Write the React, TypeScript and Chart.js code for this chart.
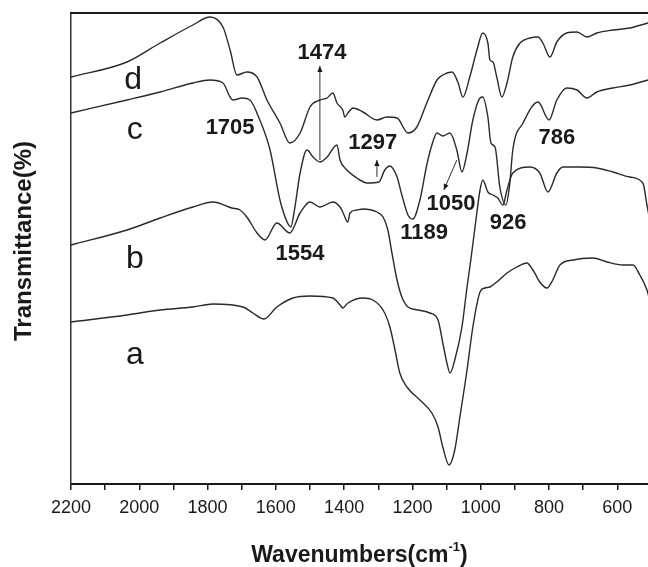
import React, { useEffect, useRef } from 'react';
import { Chart, registerables } from 'chart.js';

Chart.register(...registerables);

// ---- data (wavenumber in cm-1, transmittance in arbitrary offset units) ----
const waveA = [2200, 2036, 1939, 1843, 1784, 1696, 1667, 1635, 1597, 1550, 1500, 1433, 1412, 1404, 1389, 1345, 1316, 1286, 1266, 1251, 1237, 1216, 1178, 1143, 1125, 1111, 1093, 1076, 1061, 1040, 1023, 1002, 988, 973, 953, 923, 894, 865, 847, 827, 806, 789, 768, 730, 671, 630, 584, 554, 534, 513, 505];
const transA = [162, 169, 174, 177, 180, 177, 171, 165, 177, 186, 188, 186, 179, 176, 181, 186, 184, 174, 157, 134, 111, 97, 84, 71, 57, 37, 19, 34, 67, 114, 157, 192, 196, 197, 202, 211, 217, 221, 214, 202, 196, 204, 219, 224, 226, 222, 219, 219, 209, 194, 184];

const waveB = [2200, 2036, 1939, 1843, 1784, 1729, 1705, 1685, 1655, 1632, 1597, 1559, 1529, 1500, 1471, 1433, 1412, 1404, 1389, 1383, 1363, 1345, 1304, 1286, 1272, 1260, 1245, 1231, 1213, 1184, 1149, 1125, 1111, 1099, 1090, 1076, 1055, 1040, 1029, 1014, 1002, 994, 979, 964, 950, 935, 923, 906, 856, 827, 803, 777, 759, 710, 660, 613, 563, 525, 513, 505];
const transB = [239, 254, 266, 277, 282, 276, 274, 267, 251, 244, 261, 251, 271, 282, 277, 282, 277, 272, 262, 271, 274, 275, 272, 267, 254, 231, 204, 187, 177, 174, 171, 164, 141, 121, 111, 124, 157, 197, 224, 264, 294, 304, 292, 289, 286, 279, 294, 311, 317, 311, 292, 311, 317, 317, 316, 312, 307, 301, 279, 264];

const waveC = [2200, 2036, 1939, 1843, 1793, 1755, 1734, 1726, 1699, 1676, 1647, 1617, 1588, 1567, 1556, 1545, 1529, 1509, 1491, 1471, 1450, 1421, 1412, 1392, 1363, 1333, 1298, 1281, 1266, 1245, 1231, 1213, 1199, 1178, 1158, 1143, 1128, 1111, 1090, 1070, 1055, 1040, 1023, 1002, 994, 979, 970, 958, 944, 926, 915, 906, 876, 832, 800, 777, 748, 718, 689, 660, 613, 563, 510];
const transC = [371, 384, 392, 401, 404, 401, 387, 384, 386, 384, 364, 334, 284, 262, 257, 275, 311, 334, 327, 322, 327, 339, 324, 314, 306, 301, 302, 314, 318, 307, 289, 269, 265, 284, 319, 339, 351, 348, 351, 334, 312, 331, 364, 386, 387, 367, 341, 337, 297, 279, 300, 334, 361, 382, 364, 384, 396, 394, 386, 392, 396, 399, 404];

const waveD = [2200, 2036, 1939, 1843, 1793, 1755, 1734, 1714, 1685, 1655, 1626, 1588, 1559, 1529, 1500, 1471, 1450, 1433, 1421, 1404, 1398, 1389, 1374, 1345, 1304, 1275, 1245, 1213, 1187, 1158, 1128, 1111, 1084, 1067, 1052, 1032, 1011, 994, 979, 973, 964, 953, 938, 923, 906, 885, 856, 832, 818, 797, 777, 748, 718, 689, 660, 613, 563, 510];
const transD = [407, 422, 441, 459, 467, 457, 434, 409, 412, 407, 384, 361, 341, 351, 377, 384, 386, 391, 381, 374, 367, 371, 376, 372, 364, 367, 366, 351, 357, 381, 404, 409, 412, 402, 387, 407, 434, 451, 441, 424, 422, 407, 387, 401, 427, 441, 446, 447, 441, 427, 442, 451, 452, 447, 451, 454, 456, 461];

const xTickValues = [2200, 2100, 2000, 1900, 1800, 1700, 1600, 1500, 1400, 1300, 1200, 1100, 1000, 900, 800, 700, 600];

const seriesNames = ['a', 'b', 'c', 'd'];
const peakNames = ['1705', '1474', '1554', '1297', '1189', '1050', '926', '786'];

// annotation anchors in data coordinates
const seriesLabelAt = [
  { wn: 2013, val: 129 },
  { wn: 2013, val: 225 },
  { wn: 2013, val: 354 },
  { wn: 2018, val: 404 },
];
const peakLabelAt = [
  { wn: 1734, val: 356 },
  { wn: 1465, val: 431 },
  { wn: 1529, val: 230 },
  { wn: 1316, val: 341 },
  { wn: 1166, val: 251 },
  { wn: 1087, val: 280 },
  { wn: 920, val: 261 },
  { wn: 777, val: 346 },
];
const arrowsAt = [
  { from: [1471, 324], to: [1471, 418] },
  { from: [1304, 307], to: [1304, 324] },
  { from: [1070, 324], to: [1108, 294] },
];

const toPoints = (w: number[], t: number[]) => w.map((v, i) => ({ x: v, y: t[i] }));

const INK = '#1a1a1a';

const decorPlugin = {
  id: 'decor',
  afterDraw(chart: any) {
    const { ctx, chartArea: ca, scales } = chart;
    const xs = scales.x;
    const ys = scales.y;
    ctx.save();
    // top frame line
    ctx.strokeStyle = INK;
    ctx.lineWidth = 2;
    ctx.beginPath();
    ctx.moveTo(ca.left - 1, ca.top);
    ctx.lineTo(ca.right, ca.top);
    ctx.stroke();

    ctx.fillStyle = INK;
    ctx.textAlign = 'center';
    ctx.textBaseline = 'middle';
    ctx.font = '32px "Liberation Sans", Arial, sans-serif';
    seriesNames.forEach((s, i) => {
      const p = seriesLabelAt[i];
      ctx.fillText(s, xs.getPixelForValue(p.wn), ys.getPixelForValue(p.val));
    });
    ctx.font = 'bold 22px "Liberation Sans", Arial, sans-serif';
    peakNames.forEach((s, i) => {
      const p = peakLabelAt[i];
      ctx.fillText(s, xs.getPixelForValue(p.wn), ys.getPixelForValue(p.val));
    });

    // arrows
    ctx.lineWidth = 1;
    ctx.strokeStyle = '#333';
    arrowsAt.forEach((a) => {
      const x1 = xs.getPixelForValue(a.from[0]);
      const y1 = ys.getPixelForValue(a.from[1]);
      const x2 = xs.getPixelForValue(a.to[0]);
      const y2 = ys.getPixelForValue(a.to[1]);
      ctx.beginPath();
      ctx.moveTo(x1, y1);
      ctx.lineTo(x2, y2);
      ctx.stroke();
      const ang = Math.atan2(y2 - y1, x2 - x1);
      const L = 6;
      const W = 2.6;
      ctx.beginPath();
      ctx.moveTo(x2, y2);
      ctx.lineTo(x2 - L * Math.cos(ang) + W * Math.sin(ang), y2 - L * Math.sin(ang) - W * Math.cos(ang));
      ctx.lineTo(x2 - L * Math.cos(ang) - W * Math.sin(ang), y2 - L * Math.sin(ang) + W * Math.cos(ang));
      ctx.closePath();
      ctx.fill();
    });

    // x-axis title with superscript
    const cx = (ca.left + ca.right) / 2;
    const base = 562;
    const bigF = 'bold 23px "Liberation Sans", Arial, sans-serif';
    const supF = 'bold 13px "Liberation Sans", Arial, sans-serif';
    const p1 = 'Wavenumbers(cm';
    const p2 = '-1';
    const p3 = ')';
    ctx.textBaseline = 'alphabetic';
    ctx.textAlign = 'left';
    ctx.font = bigF;
    const w1 = ctx.measureText(p1).width;
    const w3 = ctx.measureText(p3).width;
    ctx.font = supF;
    const w2 = ctx.measureText(p2).width;
    let sx = cx - (w1 + w2 + w3) / 2;
    ctx.font = bigF;
    ctx.fillText(p1, sx, base);
    sx += w1;
    ctx.font = supF;
    ctx.fillText(p2, sx, base - 11);
    sx += w2;
    ctx.font = bigF;
    ctx.fillText(p3, sx, base);

    // y-axis title
    ctx.save();
    ctx.translate(31, 241);
    ctx.rotate(-Math.PI / 2);
    ctx.textAlign = 'center';
    ctx.font = 'bold 24px "Liberation Sans", Arial, sans-serif';
    ctx.fillText('Transmittance(%)', 0, 0);
    ctx.restore();

    ctx.restore();
  },
};

export default function App() {
  const ref = useRef<HTMLCanvasElement | null>(null);
  useEffect(() => {
    if (!ref.current) return;
    const lineStyle = {
      borderColor: '#2a2a2a',
      borderWidth: 1.4,
      pointRadius: 0,
      fill: false,
      showLine: true,
      cubicInterpolationMode: 'monotone' as const,
    };
    const chart = new Chart(ref.current, {
      type: 'scatter',
      data: {
        datasets: [
          { label: 'a', data: toPoints(waveA, transA), ...lineStyle },
          { label: 'b', data: toPoints(waveB, transB), ...lineStyle },
          { label: 'c', data: toPoints(waveC, transC), ...lineStyle },
          { label: 'd', data: toPoints(waveD, transD), ...lineStyle },
        ],
      },
      options: {
        responsive: false,
        animation: false,
        layout: { padding: { top: 13, right: 0, left: 0, bottom: 0 } },
        plugins: { legend: { display: false }, tooltip: { enabled: false } },
        scales: {
          x: {
            type: 'linear',
            reverse: true,
            min: 510,
            max: 2200,
            afterBuildTicks: (scale: any) => {
              scale.ticks = xTickValues.map((v) => ({ value: v }));
            },
            afterFit: (scale: any) => {
              scale.height = 83;
            },
            ticks: {
              autoSkip: false,
              maxRotation: 0,
              padding: 7,
              color: INK,
              font: { family: '"Liberation Sans Narrow", "Arial Narrow", "Liberation Sans", sans-serif', size: 18 },
              callback: (v: any) => (Number(v) % 200 === 0 ? String(v) : ''),
            },
            grid: { display: true, drawOnChartArea: false, drawTicks: true, tickLength: 6, color: INK, lineWidth: 1.5 },
            border: { display: true, color: INK, width: 2 },
            title: { display: false },
          },
          y: {
            type: 'linear',
            min: 0,
            max: 471,
            afterFit: (scale: any) => {
              scale.width = 71;
            },
            ticks: { display: false },
            grid: { display: false },
            border: { display: true, color: '#333', width: 1.5 },
            title: { display: false },
          },
        },
      },
      plugins: [decorPlugin],
    });
    return () => chart.destroy();
  }, []);
  return (
    <div style={{ position: 'fixed', left: 0, top: 0, width: 648, height: 567, background: '#fff' }}>
      <canvas ref={ref} width={648} height={567} style={{ width: 648, height: 567, display: 'block' }} />
    </div>
  );
}
